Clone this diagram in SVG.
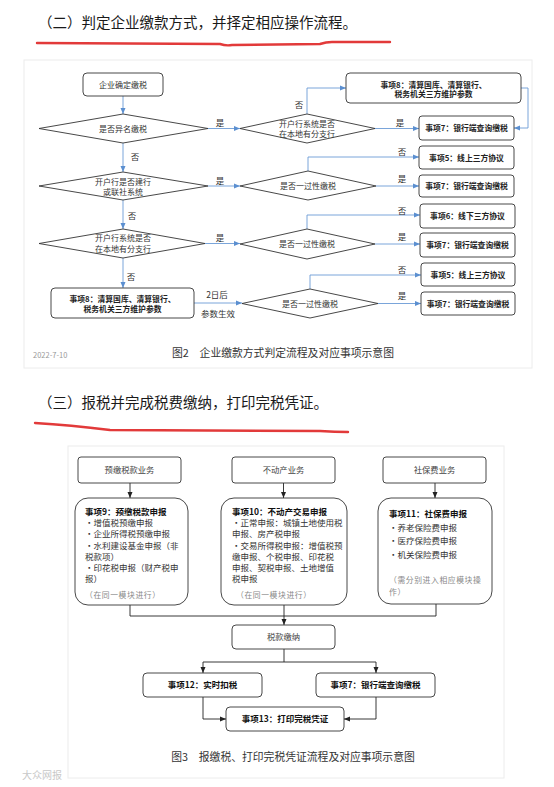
<svg xmlns="http://www.w3.org/2000/svg" width="554" height="787" viewBox="0 0 554 787">
<defs>
<marker id="ab" markerUnits="userSpaceOnUse" markerWidth="6" markerHeight="6" refX="6" refY="3" orient="auto"><path d="M0,0.5 L6,3 L0,5.5 z" fill="#5b8fd0"/></marker>
<marker id="ak" markerUnits="userSpaceOnUse" markerWidth="6" markerHeight="6" refX="6" refY="3" orient="auto"><path d="M0,0.5 L6,3 L0,5.5 z" fill="#222"/></marker>
</defs>
<style>
text{font-family:"Noto Sans CJK SC","Liberation Sans",sans-serif;fill:#222}
.h{font-size:14.5px;fill:#1a1a1a}
.red{fill:none;stroke:#e23a3a;stroke-width:2.4;stroke-linecap:round}
.panel{fill:#fff;stroke:#ececec;stroke-width:1}
.nd{fill:#fff;stroke:#333;stroke-width:0.9}
.t{font-size:8px;text-anchor:middle;fill:#333}
.tb{font-size:7.8px;text-anchor:middle;font-weight:bold;fill:#222}
.lb{font-size:8.5px;text-anchor:middle;fill:#333}
.cb{fill:none;stroke:#6b9bd6;stroke-width:0.9}
.ck{fill:none;stroke:#222;stroke-width:0.9}
.s{font-size:8.5px;fill:#333}
.sb{font-size:8.5px;font-weight:bold;fill:#111}
.sm{font-size:7.8px;fill:#888;letter-spacing:0.6px}
.st{font-size:8.3px;text-anchor:middle;fill:#444}
.stb{font-size:8.5px;text-anchor:middle;font-weight:bold;fill:#111}
.cap{font-size:10.8px;text-anchor:middle;fill:#333}
</style>
<rect width="554" height="787" fill="#fff"/>

<text class="h" x="38" y="28">（二）判定企业缴款方式，并择定相应操作流程。</text>
<path class="red" d="M37,43 L220,44 Q226,46 232,45 L320,44 Q326,42 332,42 L390,42"/>

<rect class="panel" x="24" y="60" width="508" height="308"/>

<g id="connectors-fig2">
<path class="cb" d="M123,96 V114" marker-end="url(#ab)"/>
<path class="cb" d="M208,128.5 H240" marker-end="url(#ab)"/>
<path class="cb" d="M123,143 V172" marker-end="url(#ab)"/>
<path class="cb" d="M208,186 H240" marker-end="url(#ab)"/>
<path class="cb" d="M123,200 V229" marker-end="url(#ab)"/>
<path class="cb" d="M205,243.5 H240" marker-end="url(#ab)"/>
<path class="cb" d="M123,258 V288" marker-end="url(#ab)"/>
<path class="cb" d="M194,303 H242" marker-end="url(#ab)"/>
<path class="cb" d="M307,114 V88 H346" marker-end="url(#ab)"/>
<path class="cb" d="M375,128.5 H419" marker-end="url(#ab)"/>
<path class="cb" d="M521,88 H528 V128 H514" marker-end="url(#ab)"/>
<path class="cb" d="M308,171 V157 H419" marker-end="url(#ab)"/>
<path class="cb" d="M376,186 H419" marker-end="url(#ab)"/>
<path class="cb" d="M307,229 V215 H420" marker-end="url(#ab)"/>
<path class="cb" d="M375,244 H420" marker-end="url(#ab)"/>
<path class="cb" d="M310,289 V275 H421" marker-end="url(#ab)"/>
<path class="cb" d="M378,303.5 H421" marker-end="url(#ab)"/>
<text class="lb" x="220" y="126">是</text>
<text class="lb" x="135" y="160">否</text>
<text class="lb" x="220" y="184">是</text>
<text class="lb" x="132" y="219">否</text>
<text class="lb" x="220" y="241">是</text>
<text class="lb" x="131" y="280">否</text>
<text class="lb" x="217" y="298">2日后</text>
<text class="lb" x="218" y="317">参数生效</text>
<text class="lb" x="299" y="108">否</text>
<text class="lb" x="400" y="126">是</text>
<text class="lb" x="402" y="155">否</text>
<text class="lb" x="402" y="182">是</text>
<text class="lb" x="402" y="214">否</text>
<text class="lb" x="402" y="240">是</text>
<text class="lb" x="402" y="273">否</text>
<text class="lb" x="402" y="299">是</text>
</g>

<g id="n-start"><rect class="nd" x="83" y="73" width="80" height="23" rx="4"/><text class="t" x="123" y="88">企业确定缴税</text></g>
<g id="n-d1"><polygon class="nd" points="39,128.5 123,114 208,128.5 123,143"/><text class="t" x="123" y="132">是否异名缴税</text></g>
<g id="n-d2"><polygon class="nd" points="39,186 123,172 208,186 123,200"/><text class="t" x="123" y="185">开户行是否建行</text><text class="t" x="123" y="195">或联社系统</text></g>
<g id="n-d3"><polygon class="nd" points="39,243.5 123,229 205,243.5 123,258"/><text class="t" x="123" y="241">开户行系统是否</text><text class="t" x="123" y="252">在本地有分支行</text></g>
<g id="n-box8l"><rect class="nd" x="51" y="288" width="143" height="30" rx="4"/><text class="tb" x="122.5" y="302">事项8：清算国库、清算银行、</text><text class="tb" x="122.5" y="311.5">税务机关三方维护参数</text></g>
<g id="n-r1"><polygon class="nd" points="240,128.5 307,114 375,128.5 307,143"/><text class="t" x="307" y="127">开户行系统是否</text><text class="t" x="307" y="136.5">在本地有分支行</text></g>
<g id="n-box8r"><rect class="nd" x="346" y="73" width="175" height="30" rx="4"/><text class="tb" x="433.5" y="87.5">事项8：清算国库、清算银行、</text><text class="tb" x="433.5" y="97">税务机关三方维护参数</text></g>
<g id="n-b7a"><rect class="nd" x="419" y="116" width="95" height="24" rx="3"/><text class="tb" x="466.5" y="131">事项7：银行端查询缴税</text></g>
<g id="n-r2"><polygon class="nd" points="240,186 308,171 376,186 308,200"/><text class="t" x="308" y="189">是否一过性缴税</text></g>
<g id="n-b5a"><rect class="nd" x="419" y="146" width="95" height="23" rx="3"/><text class="tb" x="466.5" y="160.5">事项5：线上三方协议</text></g>
<g id="n-b7b"><rect class="nd" x="419" y="175" width="95" height="22" rx="3"/><text class="tb" x="466.5" y="189">事项7：银行端查询缴税</text></g>
<g id="n-r3"><polygon class="nd" points="240,244 307,229 375,244 307,259"/><text class="t" x="307" y="247">是否一过性缴税</text></g>
<g id="n-b6"><rect class="nd" x="420" y="204" width="95" height="24" rx="3"/><text class="tb" x="467.5" y="219">事项6：线下三方协议</text></g>
<g id="n-b7c"><rect class="nd" x="420" y="233" width="95" height="24" rx="3"/><text class="tb" x="467.5" y="248">事项7：银行端查询缴税</text></g>
<g id="n-r4"><polygon class="nd" points="242,303.5 310,289 378,303.5 310,318"/><text class="t" x="310" y="306.5">是否一过性缴税</text></g>
<g id="n-b5b"><rect class="nd" x="421" y="263" width="94" height="23" rx="3"/><text class="tb" x="468" y="277.5">事项5：线上三方协议</text></g>
<g id="n-b7d"><rect class="nd" x="421" y="292" width="94" height="23" rx="3"/><text class="tb" x="468" y="306.5">事项7：银行端查询缴税</text></g>

<text x="33" y="358" style="font-size:7.5px;fill:#999">2022-7-10</text>
<text class="cap" x="283" y="357">图2　企业缴款方式判定流程及对应事项示意图</text>

<text class="h" x="38" y="408">（三）报税并完成税费缴纳，打印完税凭证。</text>
<path class="red" d="M35,423 Q70,425 110,430 L320,431 Q335,432 348,432"/>

<rect class="panel" x="68" y="446" width="436" height="332"/>

<g id="connectors-fig3">
<path class="ck" d="M130,483 V498" marker-end="url(#ak)"/>
<path class="ck" d="M283.5,483 V498" marker-end="url(#ak)"/>
<path class="ck" d="M435,483 V498" marker-end="url(#ak)"/>
<path class="ck" d="M130,605 V616 H436 V604"/>
<path class="ck" d="M284,605 V625" marker-end="url(#ak)"/>
<path class="ck" d="M284,649 V662 H203 V673" marker-end="url(#ak)"/>
<path class="ck" d="M284,662 H376 V673" marker-end="url(#ak)"/>
<path class="ck" d="M203,697 V719 H226" marker-end="url(#ak)"/>
<path class="ck" d="M376,697 V719 H344" marker-end="url(#ak)"/>
</g>

<g id="n-yj"><rect class="nd" x="78" y="457" width="103" height="26" rx="3"/><text class="st" x="129.5" y="473">预缴税款业务</text></g>
<g id="n-bdc"><rect class="nd" x="232" y="457" width="103" height="26" rx="3"/><text class="st" x="283.5" y="473">不动产业务</text></g>
<g id="n-sb"><rect class="nd" x="383" y="457" width="103" height="26" rx="3"/><text class="st" x="434.5" y="473">社保费业务</text></g>

<g id="n-s9"><rect class="nd" x="75" y="498" width="113" height="107" rx="13"/>
<text class="sb" x="85" y="515">事项9：预缴税款申报</text>
<text class="s" x="85" y="526">•增值税预缴申报</text>
<text class="s" x="85" y="537">•企业所得税预缴申报</text>
<text class="s" x="85" y="549">•水利建设基金申报（非</text>
<text class="s" x="85" y="560">税款项）</text>
<text class="s" x="85" y="571">•印花税申报（财产税申</text>
<text class="s" x="85" y="582">报）</text>
<text class="sm" x="85" y="598">（在同一模块进行）</text></g>

<g id="n-s10"><rect class="nd" x="221" y="498" width="126" height="107" rx="13"/>
<text class="sb" x="232" y="515">事项10：不动产交易申报</text>
<text class="s" x="232" y="526">•正常申报：城镇土地使用税</text>
<text class="s" x="232" y="537">申报、房产税申报</text>
<text class="s" x="232" y="549">•交易所得税申报：增值税预</text>
<text class="s" x="232" y="560">缴申报、个税申报、印花税</text>
<text class="s" x="232" y="571">申报、契税申报、土地增值</text>
<text class="s" x="232" y="582">税申报</text>
<text class="sm" x="236" y="598">（在同一模块进行）</text></g>

<g id="n-s11"><rect class="nd" x="378" y="498" width="114" height="106" rx="13"/>
<text class="sb" x="389" y="517">事项11：社保费申报</text>
<text class="s" x="389" y="531">•养老保险费申报</text>
<text class="s" x="389" y="544">•医疗保险费申报</text>
<text class="s" x="389" y="558">•机关保险费申报</text>
<text class="sm" x="389" y="583">（需分别进入相应模块操</text>
<text class="sm" x="389" y="595">作）</text></g>

<g id="n-jn"><rect class="nd" x="232" y="625" width="103" height="24" rx="4"/><text class="st" x="283.5" y="640">税款缴纳</text></g>
<g id="n-s12"><rect class="nd" x="143" y="673" width="119" height="24" rx="4"/><text class="stb" x="202.5" y="688">事项12：实时扣税</text></g>
<g id="n-s7"><rect class="nd" x="316" y="673" width="119" height="24" rx="4"/><text class="stb" x="375.5" y="688">事项7：银行端查询缴税</text></g>
<g id="n-s13"><rect class="nd" x="226" y="707" width="118" height="24" rx="4"/><text class="stb" x="285" y="722">事项13：打印完税凭证</text></g>

<text class="cap" x="293" y="761">图3　报缴税、打印完税凭证流程及对应事项示意图</text>
<text x="22" y="779" style="font-size:10px;fill:#c8c8c8">大众网报</text>
</svg>
